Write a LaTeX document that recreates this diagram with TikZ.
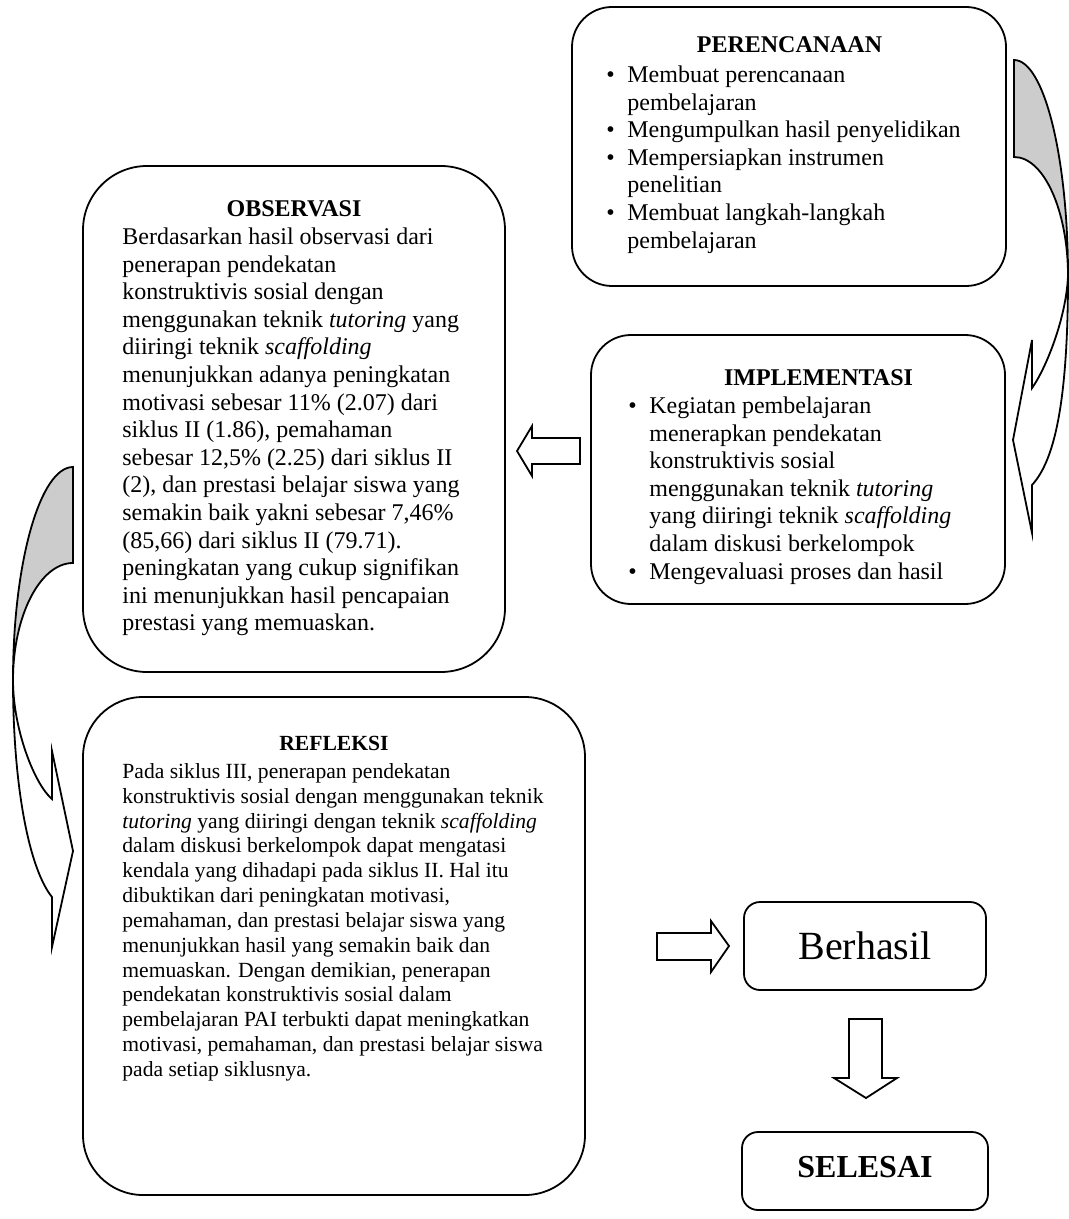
\documentclass[tikz,border=0pt]{standalone}
\usepackage{fontspec}
\setmainfont{Liberation Serif}
\usetikzlibrary{fit}
\newcommand{\bul}{\makebox[10.5pt][l]{\textbullet}}
\newcommand{\ind}{\hspace*{10.5pt}}
\begin{document}
\begin{tikzpicture}[x=0.5pt,y=-0.5pt,
  box/.style={draw, line width=0.9pt, inner sep=0pt},
  body/.style={anchor=north west, inner sep=0pt, align=left, font=\fontsize{12}{13.8}\selectfont},
  smallbody/.style={body, font=\fontsize{10.8}{12.42}\selectfont},
  head/.style={anchor=base, inner sep=0pt, font=\fontsize{12}{13.8}\selectfont\bfseries},
  smallhead/.style={head, font=\fontsize{10.8}{12.42}\selectfont\bfseries},
  blockarrow/.style={draw, line width=0.9pt, fill=white, line join=miter},
  band/.style={draw, line width=0.9pt, line join=miter},
  shade/.style={fill=black!20}]
\useasboundingbox (0,0) rectangle (1069,1219);

% ---------- boxes ----------
\node[box, rounded corners=20pt, fit={(572,7) (1006,286)}] (per) {};
\node[box, rounded corners=32pt, fit={(83,166) (505,672)}] (obs) {};
\node[box, rounded corners=20pt, fit={(591,335) (1005,604)}] (imp) {};
\node[box, rounded corners=30pt, fit={(83,697) (585,1195)}] (ref) {};
\node[box, rounded corners=8pt, fit={(744,902) (986,990)}] (ok) {};
\node[box, rounded corners=8pt, fit={(742,1132) (988,1210)}] (end) {};

% ---------- PERENCANAAN ----------
\node[head] (perH) at (789.5,53) {PERENCANAAN};
\node[body] (perB) at (606,62.7) {\strut\bul Membuat perencanaan\\
\ind pembelajaran\\
\bul Mengumpulkan hasil penyelidikan\\
\bul Mempersiapkan instrumen\\
\ind penelitian\\
\bul Membuat langkah-langkah\\
\ind pembelajaran};

% ---------- OBSERVASI ----------
\node[head] (obsH) at (294,217) {OBSERVASI};
\node[body] (obsB) at (122,224.7) {\strut Berdasarkan hasil observasi dari\\
penerapan pendekatan\\
konstruktivis sosial dengan\\
menggunakan teknik \textit{tutoring} yang\\
diiringi teknik \textit{scaffolding}\\
menunjukkan adanya peningkatan\\
motivasi sebesar 11\% (2.07) dari\\
siklus II (1.86), pemahaman\\
sebesar 12,5\% (2.25) dari siklus II\\
(2), dan prestasi belajar siswa yang\\
semakin baik yakni sebesar 7,46\%\\
(85,66) dari siklus II (79.71).\\
peningkatan yang cukup signifikan\\
ini menunjukkan hasil pencapaian\\
prestasi yang memuaskan.};

% ---------- IMPLEMENTASI ----------
\node[head] (impH) at (818.5,385) {IMPLEMENTASI};
\node[body] (impB) at (628,393.7) {\strut\bul Kegiatan pembelajaran\\
\ind menerapkan pendekatan\\
\ind konstruktivis sosial\\
\ind menggunakan teknik \textit{tutoring}\\
\ind yang diiringi teknik \textit{scaffolding}\\
\ind dalam diskusi berkelompok\\
\bul Mengevaluasi proses dan hasil};

% ---------- REFLEKSI ----------
\node[smallhead] (refH) at (334,750) {REFLEKSI};
\node[smallbody] (refB) at (122,760.6) {\strut Pada siklus III, penerapan pendekatan\\
konstruktivis sosial dengan menggunakan teknik\\
\textit{tutoring} yang diiringi dengan teknik \textit{scaffolding}\\
dalam diskusi berkelompok dapat mengatasi\\
kendala yang dihadapi pada siklus II. Hal itu\\
dibuktikan dari peningkatan motivasi,\\
pemahaman, dan prestasi belajar siswa yang\\
menunjukkan hasil yang semakin baik dan\\
memuaskan. Dengan demikian, penerapan\\
pendekatan konstruktivis sosial dalam\\
pembelajaran PAI terbukti dapat meningkatkan\\
motivasi, pemahaman, dan prestasi belajar siswa\\
pada setiap siklusnya.};

% ---------- result boxes ----------
\node[inner sep=0pt, font=\fontsize{20}{24}\selectfont] (okT) at (ok.center) {Berhasil};
\node[inner sep=0pt, font=\fontsize{16}{19}\selectfont\bfseries] (endT) at ([yshift=2pt]end.center) {SELESAI};

% ---------- hollow block arrows ----------
\draw[blockarrow] (580,438) -- (532,438) -- (532,426) -- (517,451) -- (532,476) -- (532,464) -- (580,464) -- cycle;
\draw[blockarrow] (657,933) -- (711,933) -- (711,921) -- (729,946) -- (711,972) -- (711,960) -- (657,960) -- cycle;
\draw[blockarrow] (849,1019) -- (882,1019) -- (882,1078) -- (897,1078) -- (866,1098) -- (834,1078) -- (849,1078) -- cycle;

% ---------- curved arrow on the right (PERENCANAAN -> IMPLEMENTASI) ----------
\fill[shade] (1014,60) .. controls (1044,60) and (1068,157) .. (1068,276)
  .. controls (1068,211) and (1044,157) .. (1014,157) -- cycle;
\draw[band] (1014,60) -- (1014,157)
  .. controls (1044,157) and (1068,211) .. (1068,276)
  .. controls (1066,320) and (1045,370) .. (1032,388)
  -- (1032,340) -- (1013,440) -- (1032,533) -- (1032,485)
  .. controls (1055,460) and (1068,400) .. (1068,276)
  .. controls (1068,157) and (1044,60) .. (1014,60) -- cycle;

% ---------- curved arrow on the left (OBSERVASI -> REFLEKSI) ----------
\fill[shade] (73,467) .. controls (40,467) and (13,563) .. (13,680)
  .. controls (13,616) and (40,563) .. (73,563) -- cycle;
\draw[band] (73,467) -- (73,563)
  .. controls (40,563) and (13,616) .. (13,680)
  .. controls (13,730) and (35,785) .. (52,799)
  -- (52,751) -- (73,851) -- (52,947) -- (52,897)
  .. controls (30,870) and (13,790) .. (13,680)
  .. controls (13,563) and (40,467) .. (73,467) -- cycle;
\end{tikzpicture}
\end{document}
